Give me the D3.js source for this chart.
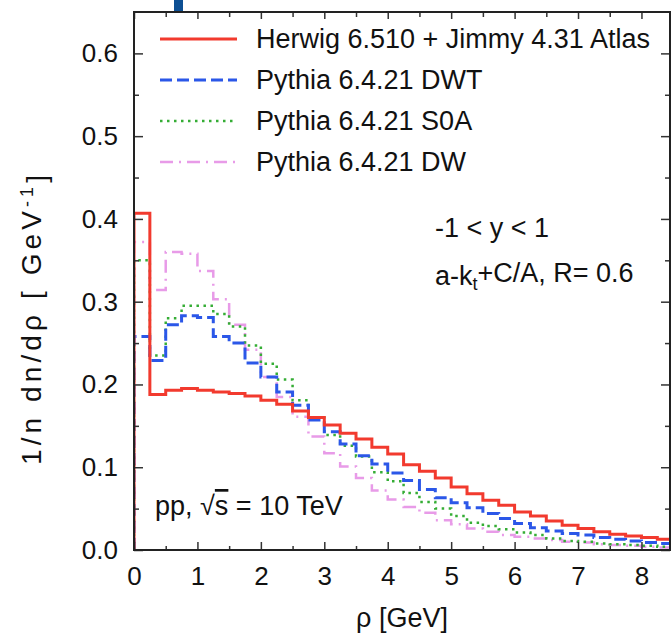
<!DOCTYPE html>
<html>
<head>
<meta charset="utf-8">
<script src="https://cdn.jsdelivr.net/npm/d3@7"></script>
<style>
  body { margin: 0; background: #fff; }
  svg { display: block; font-family: "Liberation Sans", Arial, sans-serif; }
</style>
</head>
<body>
<div id="chart"></div>
<script>
// bins are 0.25 GeV wide, starting at 0
const binWidth = 0.25;

const herwig = [0.407, 0.188, 0.193, 0.195, 0.193, 0.191, 0.189, 0.186, 0.181, 0.176, 0.168, 0.160,
  0.151, 0.141, 0.134, 0.124, 0.116, 0.103, 0.095, 0.087, 0.076, 0.068, 0.060, 0.054,
  0.046, 0.041, 0.035, 0.030, 0.026, 0.022, 0.019, 0.017, 0.015, 0.013];
const pythiaDWT = [0.258, 0.229, 0.272, 0.283, 0.281, 0.258, 0.250, 0.226, 0.209, 0.191, 0.175, 0.157,
  0.143, 0.128, 0.114, 0.104, 0.093, 0.084, 0.073, 0.063, 0.057, 0.051, 0.044, 0.038,
  0.032, 0.027, 0.023, 0.020, 0.018, 0.015, 0.013, 0.011, 0.009, 0.008];
const pythiaS0A = [0.350, 0.235, 0.280, 0.295, 0.295, 0.285, 0.270, 0.247, 0.225, 0.206, 0.181, 0.160,
  0.139, 0.126, 0.113, 0.094, 0.083, 0.069, 0.058, 0.050, 0.041, 0.033, 0.029, 0.025,
  0.021, 0.018, 0.014, 0.011, 0.010, 0.008, 0.007, 0.006, 0.005, 0.004];
const pythiaDW = [0.372, 0.314, 0.360, 0.358, 0.337, 0.303, 0.272, 0.242, 0.209, 0.185, 0.161, 0.137,
  0.117, 0.101, 0.087, 0.072, 0.061, 0.052, 0.045, 0.036, 0.031, 0.026, 0.022, 0.018,
  0.016, 0.014, 0.012, 0.010, 0.009, 0.007, 0.006, 0.005, 0.004, 0.003];

const seriesNames = ["Herwig 6.510 + Jimmy 4.31 Atlas", "Pythia 6.4.21 DWT", "Pythia 6.4.21 S0A", "Pythia 6.4.21 DW"];
const xTicks = [0, 1, 2, 3, 4, 5, 6, 7, 8];
const yTicks = [0.0, 0.1, 0.2, 0.3, 0.4, 0.5, 0.6];

const width = 672, height = 636;
const margin = {top: 12, right: 2, bottom: 86, left: 134};
const w = width - margin.left - margin.right;
const h = height - margin.top - margin.bottom;

const series = [
  {name: seriesNames[0], values: herwig, color: "#f23a2e", dash: null, sw: 3},
  {name: seriesNames[1], values: pythiaDWT, color: "#2b57e8", dash: "12,5", sw: 3},
  {name: seriesNames[2], values: pythiaS0A, color: "#35ad35", dash: "2.5,4.5", sw: 2.5},
  {name: seriesNames[3], values: pythiaDW, color: "#e89be8", dash: "13,6,2,6", sw: 2.5}
];

const svg = d3.select("#chart").append("svg")
  .attr("width", width)
  .attr("height", height);

// stray blue mark at the top edge of the original figure
svg.append("rect")
  .attr("x", 174).attr("y", 0).attr("width", 9).attr("height", 11)
  .attr("fill", "#0d4f93");

const g = svg.append("g")
  .attr("transform", `translate(${margin.left}, ${margin.top})`);

const x = d3.scaleLinear().domain([0, 8.45]).range([0, w]);
const y = d3.scaleLinear().domain([0, 0.65]).range([h, 0]);

g.append("clipPath").attr("id", "clip")
  .append("rect").attr("width", w).attr("height", h);

const line = d3.line()
  .x(d => x(d[0]))
  .y(d => y(d[1]))
  .curve(d3.curveStepAfter);

series.slice().reverse().forEach(s => {
  const pts = [[0, 0]];
  s.values.forEach((v, i) => pts.push([i * binWidth, v]));
  pts.push([s.values.length * binWidth, s.values[s.values.length - 1]]);
  g.append("path")
    .attr("clip-path", "url(#clip)")
    .attr("d", line(pts))
    .attr("fill", "none")
    .attr("stroke", s.color)
    .attr("stroke-width", s.sw)
    .attr("stroke-dasharray", s.dash);
});

// axes, ticks inside on all four sides
const minorX = d3.range(0.5, 8.45, 1);
const minorY = d3.range(0.05, 0.65, 0.1);

g.append("g")
  .attr("transform", `translate(0, ${h})`)
  .call(d3.axisBottom(x).tickValues(xTicks).tickSize(-8).tickPadding(17).tickSizeOuter(0).tickFormat(d3.format("d")));
g.append("g").attr("transform", `translate(0, ${h})`)
  .call(d3.axisBottom(x).tickValues(minorX).tickSize(-4).tickSizeOuter(0).tickFormat(""));

g.append("g")
  .call(d3.axisTop(x).tickValues(xTicks).tickSize(-7).tickSizeOuter(0).tickFormat(""));
g.append("g")
  .call(d3.axisTop(x).tickValues(minorX).tickSize(-5).tickSizeOuter(0).tickFormat(""));

g.append("g")
  .call(d3.axisLeft(y).tickValues(yTicks).tickSize(-9).tickPadding(16).tickSizeOuter(0).tickFormat(d3.format(".1f")));
g.append("g")
  .call(d3.axisLeft(y).tickValues(minorY).tickSize(-5).tickSizeOuter(0).tickFormat(""));

g.append("g").attr("transform", `translate(${w}, 0)`)
  .call(d3.axisRight(y).tickValues(yTicks).tickSize(-9).tickSizeOuter(0).tickFormat(""));
g.append("g").attr("transform", `translate(${w}, 0)`)
  .call(d3.axisRight(y).tickValues(minorY).tickSize(-5).tickSizeOuter(0).tickFormat(""));

g.selectAll(".domain").remove();
g.selectAll(".tick line").attr("stroke", "#333").attr("stroke-width", 1.5);
g.selectAll(".tick text").attr("fill", "#111").style("font-size", "26px");

g.append("rect")
  .attr("width", w).attr("height", h)
  .attr("fill", "none").attr("stroke", "#222").attr("stroke-width", 2);

// axis titles
svg.append("text")
  .attr("x", 402).attr("y", 627)
  .attr("text-anchor", "middle")
  .attr("fill", "#111")
  .style("font-size", "27px")
  .text("ρ [GeV]");

const yTitle = svg.append("text")
  .attr("transform", `translate(41, 320) rotate(-90)`)
  .attr("text-anchor", "middle")
  .attr("fill", "#111")
  .attr("textLength", 290)
  .attr("lengthAdjust", "spacing")
  .style("font-size", "28px");
yTitle.append("tspan").text("1/n dn/dρ [ GeV");
yTitle.append("tspan").attr("dy", "-0.45em").style("font-size", "18px").text("-1");
yTitle.append("tspan").attr("dy", "0.45em").text("]");

// legend
const legend = g.append("g").attr("transform", "translate(26, 27)");
series.forEach((s, i) => {
  const row = legend.append("g").attr("transform", `translate(0, ${i * 41})`);
  row.append("line")
    .attr("x1", 0).attr("x2", 77)
    .attr("stroke", s.color)
    .attr("stroke-width", s.sw)
    .attr("stroke-dasharray", s.dash);
  row.append("text")
    .attr("x", 96).attr("dy", "0.35em")
    .attr("fill", "#111")
    .style("font-size", "27px")
    .text(s.name);
});

// annotations
svg.append("text")
  .attr("x", 435).attr("y", 237)
  .attr("fill", "#111").style("font-size", "27px")
  .text("-1 < y < 1");

const jetText = svg.append("text")
  .attr("x", 435).attr("y", 285)
  .attr("fill", "#111").style("font-size", "27px");
jetText.append("tspan").text("a-k");
jetText.append("tspan").attr("dy", "0.3em").style("font-size", "18px").text("t");
jetText.append("tspan").attr("dy", "-0.3em").text("+C/A, R= 0.6");

const ppText = svg.append("text")
  .attr("x", 155).attr("y", 515)
  .attr("fill", "#111").style("font-size", "27px");
ppText.append("tspan").text("pp, √");
ppText.append("tspan").style("text-decoration", "overline").text("s");
ppText.append("tspan").text(" = 10 TeV");
</script>
</body>
</html>
